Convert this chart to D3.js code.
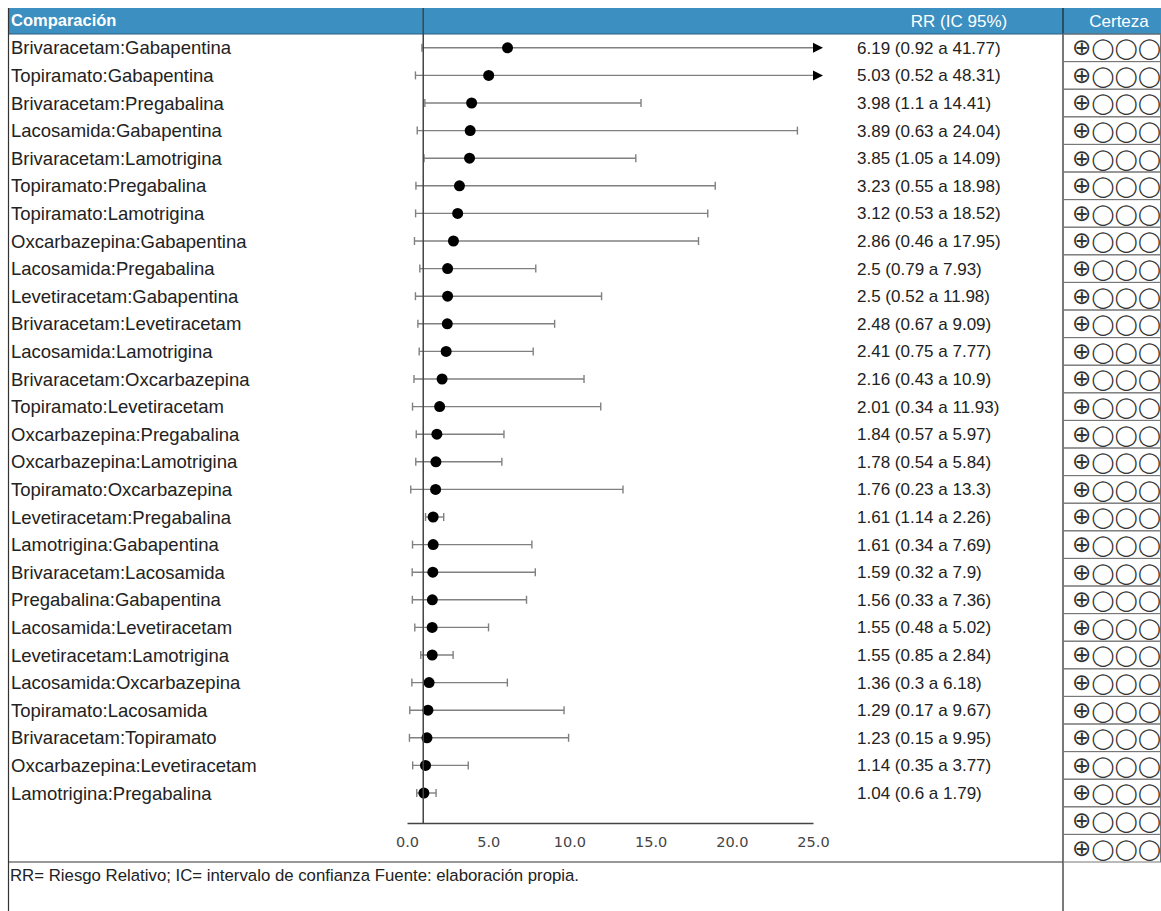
<!DOCTYPE html>
<html>
<head>
<meta charset="utf-8">
<script src="https://cdn.jsdelivr.net/npm/d3@7/dist/d3.min.js"></script>
<style>
  html, body { margin: 0; padding: 0; background: #fff; }
  svg { display: block; }
</style>
</head>
<body>
<svg id="chart" width="1161" height="911"></svg>
<script>
// Pairwise comparisons (relative risk with 95% CI)
const comparisons = [
  "Brivaracetam:Gabapentina", "Topiramato:Gabapentina", "Brivaracetam:Pregabalina",
  "Lacosamida:Gabapentina", "Brivaracetam:Lamotrigina", "Topiramato:Pregabalina",
  "Topiramato:Lamotrigina", "Oxcarbazepina:Gabapentina", "Lacosamida:Pregabalina",
  "Levetiracetam:Gabapentina", "Brivaracetam:Levetiracetam", "Lacosamida:Lamotrigina",
  "Brivaracetam:Oxcarbazepina", "Topiramato:Levetiracetam", "Oxcarbazepina:Pregabalina",
  "Oxcarbazepina:Lamotrigina", "Topiramato:Oxcarbazepina", "Levetiracetam:Pregabalina",
  "Lamotrigina:Gabapentina", "Brivaracetam:Lacosamida", "Pregabalina:Gabapentina",
  "Lacosamida:Levetiracetam", "Levetiracetam:Lamotrigina", "Lacosamida:Oxcarbazepina",
  "Topiramato:Lacosamida", "Brivaracetam:Topiramato", "Oxcarbazepina:Levetiracetam",
  "Lamotrigina:Pregabalina"
];
const rr    = [6.19, 5.03, 3.98, 3.89, 3.85, 3.23, 3.12, 2.86, 2.5, 2.5, 2.48, 2.41, 2.16, 2.01,
               1.84, 1.78, 1.76, 1.61, 1.61, 1.59, 1.56, 1.55, 1.55, 1.36, 1.29, 1.23, 1.14, 1.04];
const lower = [0.92, 0.52, 1.1, 0.63, 1.05, 0.55, 0.53, 0.46, 0.79, 0.52, 0.67, 0.75, 0.43, 0.34,
               0.57, 0.54, 0.23, 1.14, 0.34, 0.32, 0.33, 0.48, 0.85, 0.3, 0.17, 0.15, 0.35, 0.6];
const upper = [41.77, 48.31, 14.41, 24.04, 14.09, 18.98, 18.52, 17.95, 7.93, 11.98, 9.09, 7.77, 10.9, 11.93,
               5.97, 5.84, 13.3, 2.26, 7.69, 7.9, 7.36, 5.02, 2.84, 6.18, 9.67, 9.95, 3.77, 1.79];
// GRADE certainty per row (one extra pair of cells closes the column)
const certainty = Array(30).fill("⊕◯◯◯");
const xTicks = [0, 5, 10, 15, 20, 25];
const headers = ["Comparación", "RR (IC 95%)", "Certeza"];
const footnote = "RR= Riesgo Relativo; IC= intervalo de confianza Fuente: elaboración propia.";

const rowsData = comparisons.map((label, i) => ({ label, rr: rr[i], lo: lower[i], hi: upper[i] }));

const svg = d3.select("#chart");
const H = 911;
const left = 8, headTop = 8, headBottom = 34, bodyBottom = 862;
const certLeft = 1063, right = 1161;
const axisY = 823;

const y = d3.scaleBand().domain(d3.range(certainty.length)).range([headBottom, bodyBottom]);
const x = d3.scaleLinear().domain([0, 25]).range([407, 813]);
const xMax = x.domain()[1];

const font = "'Liberation Sans', Arial, sans-serif";

// header bar
svg.append("rect").attr("x", left).attr("y", headTop).attr("width", right - left)
  .attr("height", headBottom - headTop).attr("fill", "#3b8fc1");
svg.append("line").attr("x1", left).attr("x2", right).attr("y1", headBottom).attr("y2", headBottom)
  .attr("stroke", "#2a5f80").attr("stroke-width", 1);
svg.append("text").attr("x", 11).attr("y", 26).text(headers[0])
  .attr("font-family", font).attr("font-size", 16.5).attr("font-weight", "bold").attr("fill", "#fff");
svg.append("text").attr("x", 959).attr("y", 27).attr("text-anchor", "middle").text(headers[1])
  .attr("font-family", font).attr("font-size", 17).attr("fill", "#fff");
svg.append("text").attr("x", 1119).attr("y", 27).attr("text-anchor", "middle").text(headers[2])
  .attr("font-family", font).attr("font-size", 17).attr("fill", "#fff");

// frame lines
svg.append("line").attr("x1", left + 0.5).attr("x2", left + 0.5).attr("y1", headTop).attr("y2", H)
  .attr("stroke", "#333").attr("stroke-width", 1.2);
svg.append("line").attr("x1", certLeft).attr("x2", certLeft).attr("y1", headTop).attr("y2", H)
  .attr("stroke", "#222").attr("stroke-width", 1.2);
svg.append("line").attr("x1", left).attr("x2", certLeft).attr("y1", bodyBottom).attr("y2", bodyBottom)
  .attr("stroke", "#333").attr("stroke-width", 1.2);

// certainty cells
const cells = svg.append("g").selectAll("g").data(certainty).join("g")
  .attr("transform", (d, i) => `translate(0,${y(i)})`);
cells.append("rect").attr("x", certLeft).attr("y", 0).attr("width", right - certLeft - 0.5)
  .attr("height", y.bandwidth()).attr("fill", "none").attr("stroke", "#777").attr("stroke-width", 1);
const symbols = cells.append("text").attr("x", 1072).attr("y", y.bandwidth() / 2 + 7.5)
  .attr("font-family", "'DejaVu Sans', sans-serif").attr("fill", "#333");
symbols.selectAll("tspan").data(d => Array.from(d)).join("tspan")
  .attr("font-size", c => c === "⊕" ? 23 : 20.5)
  .attr("dx", (c, j) => j === 0 ? 0 : 0.3)
  .text(c => c);

// row labels and estimates
const rows = svg.append("g").selectAll("g").data(rowsData).join("g")
  .attr("transform", (d, i) => `translate(0,${y(i) + y.bandwidth() / 2})`);
rows.append("text").attr("x", 11).attr("y", 6.5).text(d => d.label)
  .attr("font-family", font).attr("font-size", 18.5).attr("fill", "#222");
rows.append("text").attr("x", 857).attr("y", 6)
  .text(d => `${d.rr} (${d.lo} a ${d.hi})`)
  .attr("font-family", font).attr("font-size", 17).attr("fill", "#222");

// axis
const axis = svg.append("g").attr("transform", `translate(0,${axisY})`)
  .call(d3.axisBottom(x).tickValues(xTicks).tickFormat(d3.format(".1f")).tickSize(0).tickPadding(14));
axis.select(".domain").attr("stroke", "#444").attr("stroke-width", 1.5);
axis.selectAll("text").attr("font-family", "'DejaVu Sans', sans-serif").attr("font-size", 14.5).attr("fill", "#444");

// null-effect line at RR = 1
svg.append("line").attr("x1", x(1)).attr("x2", x(1)).attr("y1", headTop).attr("y2", axisY)
  .attr("stroke", "#444").attr("stroke-width", 1.5);

// confidence intervals
const ci = rows.append("g").attr("stroke", "#808080").attr("stroke-width", 1.4);
ci.append("line").attr("x1", d => x(d.lo)).attr("x2", d => x(Math.min(d.hi, xMax)))
  .attr("y1", 0).attr("y2", 0);
ci.append("line").attr("x1", d => x(d.lo)).attr("x2", d => x(d.lo)).attr("y1", -4).attr("y2", 4);
ci.filter(d => d.hi <= xMax).append("line")
  .attr("x1", d => x(d.hi)).attr("x2", d => x(d.hi)).attr("y1", -4).attr("y2", 4);
rows.filter(d => d.hi > xMax).append("path")
  .attr("d", `M${x(xMax)},-5L${x(xMax) + 10},0L${x(xMax)},5Z`).attr("fill", "#000");

// point estimates
rows.append("circle").attr("cx", d => x(d.rr)).attr("cy", 0).attr("r", 5.5).attr("fill", "#000");

// footnote
svg.append("text").attr("x", 10).attr("y", 881).text(footnote)
  .attr("font-family", font).attr("font-size", 16.8).attr("fill", "#222");
</script>
</body>
</html>
